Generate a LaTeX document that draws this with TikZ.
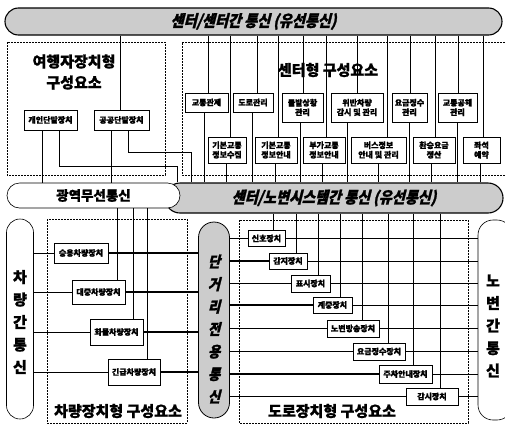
\documentclass[tikz,border=0pt]{standalone}
\usepackage{fontspec}
\newfontfamily\kr[FakeBold=1.2]{Noto Sans CJK KR}
\newfontfamily\krsl[FakeSlant=0.25,FakeStretch=0.88,FakeBold=1.5]{Noto Sans CJK KR}
\begin{document}
\begin{tikzpicture}[x=1pt,y=-1pt,
  box/.style={draw, fill=white, line width=0.6pt, inner sep=0.5pt, align=center,
              font=\kr\bfseries\fontsize{8}{9.5}\selectfont},
  grp/.style={draw, line width=0.5pt, dash pattern=on 2pt off 1pt},
  gtitle/.style={align=center, inner sep=0pt, font=\kr\bfseries\fontsize{15}{21}\selectfont},
  banner/.style={draw, fill=gray!40, line width=1.1pt, inner sep=0pt,
                 font=\krsl\bfseries\fontsize{16}{18}\selectfont},
  pill/.style={draw, fill=white, line width=0.6pt, inner sep=0pt},
  vtext/.style={align=center, inner sep=0pt, font=\kr\bfseries\fontsize{15}{22.5}\selectfont},
  ln/.style={line width=0.5pt},
  tk/.style={line width=1.1pt},
  thn/.style={line width=0.4pt}]
\useasboundingbox (0,0) rectangle (505,426);

% group frames
\draw[grp] (7,42) rectangle (165,175);
\draw[grp] (505,42) -- (182,42) -- (182,175) -- (505,175);
\draw[grp] (47,219) rectangle (187,423);
\draw[grp] (239,220) rectangle (468,423);

% group titles
\node[gtitle] (tTitle) at (74,72) {여행자장치형\\구성요소};
\node[gtitle] (cTitle) at (328,70) {센터형 구성요소};
\node[gtitle] (vTitle) at (118,411) {차량장치형 구성요소};
\node[gtitle] (rTitle) at (332,411) {도로장치형 구성요소};

% banners and pills
\node[banner, minimum width=497, minimum height=27, rounded corners=13.5pt] (top) at (253.5,21.5) {센터/센터간 통신 (유선통신)};
\node[banner, minimum width=338, minimum height=30, rounded corners=15pt] (mid) at (334,198) {센터/노변시스템간 통신 (유선통신)};
\node[pill, minimum width=173, minimum height=25, rounded corners=12.5pt,
      font=\kr\bfseries\fontsize{13.5}{15}\selectfont] (wide) at (93.5,195.5) {광역무선통신};
\node[pill, minimum width=27, minimum height=200, rounded corners=13.5pt] (v2v) at (20,319) {};
\node[vtext] (v2vT) at (20,322) {차\\량\\간\\통\\신};
\node[pill, minimum width=34, minimum height=200, rounded corners=15pt] (r2r) at (495,320) {};
\node[vtext] (r2rT) at (493,326) {노\\변\\간\\통\\신};
\node[banner, line width=0.8pt, minimum width=31, minimum height=196, rounded corners=15.5pt] (dsrc) at (214,320) {};
\node[vtext, font=\krsl\bfseries\fontsize{15}{22.5}\selectfont] (dsrcT) at (214,329) {단\\거\\리\\전\\용\\통\\신};

% traveller devices
\node[box, minimum width=53, minimum height=20] (t1) at (50.5,120) {개인단말장치};
\node[box, minimum width=55, minimum height=20] (t2) at (121.5,120) {공공단말장치};

% centre components, top row
\node[box, minimum width=43, minimum height=19] (c1) at (206.5,102.5) {교통관제};
\node[box, minimum width=40, minimum height=19] (c2) at (253,102.5) {도로관리};
\node[box, minimum width=41, minimum height=29] (c3) at (302.5,107.5) {돌발상황\\관리};
\node[box, minimum width=52, minimum height=29] (c4) at (357,107.5) {위반차량\\감시 및 관리};
\node[box, minimum width=35, minimum height=29] (c5) at (409.5,107.5) {요금징수\\관리};
\node[box, minimum width=39, minimum height=29] (c6) at (457.5,107.5) {교통공해\\관리};
% second row
\node[box, minimum width=38, minimum height=26] (d1) at (227,150) {기본교통\\정보수집};
\node[box, minimum width=42, minimum height=26] (d2) at (276,150) {기본교통\\정보안내};
\node[box, minimum width=42, minimum height=26] (d3) at (324,150) {부가교통\\정보안내};
\node[box, minimum width=55, minimum height=26] (d4) at (378.5,150) {버스정보\\안내 및 관리};
\node[box, minimum width=42, minimum height=26] (d5) at (434,150) {환승요금\\정산};
\node[box, minimum width=37, minimum height=26] (d6) at (481.5,150) {좌석\\예약};

% vehicle devices
\node[box, minimum width=54, minimum height=20] (v1) at (81,253) {승용차량장치};
\node[box, minimum width=53, minimum height=24] (v2) at (98.5,292) {대중차량장치};
\node[box, minimum width=53, minimum height=26] (v3) at (116.5,332) {화물차량장치};
\node[box, minimum width=52, minimum height=26] (v4) at (134,372) {긴급차량장치};

% roadside devices
\node[box, minimum width=37, minimum height=16] (r1) at (266.5,238.5) {신호장치};
\node[box, minimum width=38, minimum height=16] (r2) at (288,261) {감지장치};
\node[box, minimum width=39, minimum height=17] (r3) at (310.5,283.5) {표시장치};
\node[box, minimum width=39, minimum height=16] (r4) at (332.5,305) {계중장치};
\node[box, minimum width=52, minimum height=17] (r5) at (353,328.5) {노변방송장치};
\node[box, minimum width=52, minimum height=17] (r6) at (379,351.5) {요금징수장치};
\node[box, minimum width=53, minimum height=18] (r7) at (405.5,374) {주차안내장치};
\node[box, minimum width=52, minimum height=17] (r8) at (432,396.5) {감시장치};

% top banner to components
\draw[ln] (top.south -| 120,0) -- (t2.north -| 120,0);
\foreach \n/\x in {c1/208,d1/230,c2/257,d2/278,c3/303,d3/326,c4/357,d4/387,c5/410,d5/435,c6/458,d6/483}
  \draw[ln] (top.south -| \x,0) -- (\n.north -| \x,0);
% components to centre/roadside banner
\foreach \n/\x in {c1/204,d1/226,c2/252,d2/275,c3/300,d3/322,c4/347,d4/378,c5/409,d5/431,c6/457,d6/480}
  \draw[ln] (\n.south -| \x,0) -- (mid.north -| \x,0);

% traveller devices links
\draw[ln] (t1.south -| 42,0) -- (wide.north -| 42,0);
\draw[ln] (t2.south -| 111,0) -- (wide.north -| 111,0);
\draw[ln] (t1.south -| 59,0) |- (177,166) -- (mid.north -| 177,0);
\draw[ln] (t2.south -| 128,0) |- (191,152) -- (mid.north -| 191,0);

% wide-area wireless to vehicles
\draw[ln] (wide.south -| 117,0) -- (v2.north -| 117,0);
\draw[ln] (wide.south -| 133,0) -- (v3.north -| 133,0);
\draw[ln] (wide.south -| 147,0) -- (v4.north -| 147,0);

% vehicle links
\foreach \n in {v1,v2,v3,v4}{
  \draw[thn] (v2v.east |- \n.west) -- (\n.west);
  \draw[tk] (\n.east) -- (dsrc.west |- \n.east);
}

% roadside links
\foreach \n/\x in {r1/273,r2/296,r3/318,r4/340,r5/362,r6/388,r7/413,r8/440}{
  \draw[tk] (dsrc.east |- \n.west) -- (\n.west);
  \draw[ln] (mid.south -| \x,0) -- (\n.north -| \x,0);
  \draw[thn] (\n.east) -- (r2r.west |- \n.east);
}
\end{tikzpicture}
\end{document}
